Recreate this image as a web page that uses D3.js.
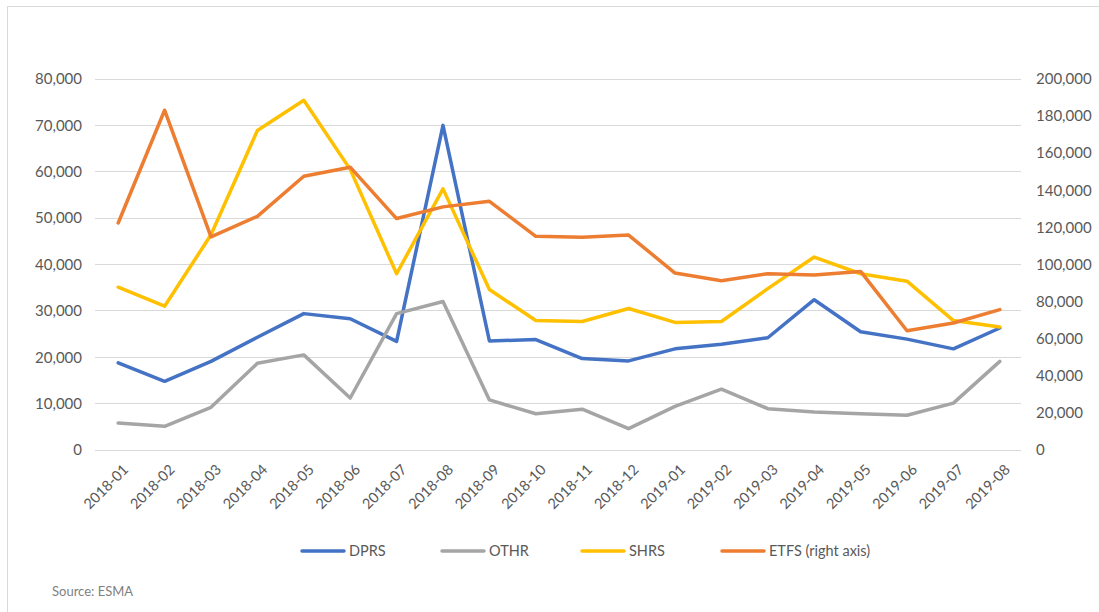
<!DOCTYPE html>
<html>
<head>
<meta charset="utf-8">
<script src="https://cdn.jsdelivr.net/npm/d3@7"></script>
<style>
  body { margin: 0; background: #fff; }
  svg text { font-family: Lato, "Open Sans", sans-serif; fill: #595959; }
</style>
</head>
<body>
<svg id="chart" width="1099" height="612"></svg>
<script>
var months = ["2018-01","2018-02","2018-03","2018-04","2018-05","2018-06","2018-07","2018-08","2018-09","2018-10",
              "2018-11","2018-12","2019-01","2019-02","2019-03","2019-04","2019-05","2019-06","2019-07","2019-08"];
var dprs = [18700,14700,19000,24200,29300,28200,23300,69900,23400,23700,19600,19100,21700,22700,24100,32300,25400,23800,21700,26200];
var othr = [5700,5000,9100,18600,20400,11100,29300,31900,10700,7700,8700,4500,9300,13000,8800,8100,7700,7400,10000,19000];
var shrs = [35000,30900,46300,68800,75300,60400,37900,56200,34500,27800,27600,30400,27400,27600,34700,41500,37900,36300,27800,26400];
var etfs = [122100,182900,114600,125700,147300,152200,124500,130800,133800,114900,114400,115600,95100,91000,94800,94100,96000,64000,68200,75400];
var leftTicks = [0,10000,20000,30000,40000,50000,60000,70000,80000];
var rightTicks = [0,20000,40000,60000,80000,100000,120000,140000,160000,180000,200000];

var series = [
  {name: "DPRS", values: dprs, color: "#4472C4", axis: "left"},
  {name: "OTHR", values: othr, color: "#A5A5A5", axis: "left"},
  {name: "SHRS", values: shrs, color: "#FFC000", axis: "left"},
  {name: "ETFS (right axis)", values: etfs, color: "#ED7D31", axis: "right"}
];

var svg = d3.select("#chart");

// chart frame
svg.append("rect")
    .attr("x", 7.5).attr("y", 6.5)
    .attr("width", 1100).attr("height", 620)
    .attr("fill", "none").attr("stroke", "#d9d9d9");

var x = d3.scalePoint().domain(months).range([95, 1023]).padding(0.5);
var yL = d3.scaleLinear().domain([0, 80000]).range([449.5, 78.5]);
var yR = d3.scaleLinear().domain([0, 200000]).range([449.5, 78.5]);

// gridlines
svg.append("g").selectAll("line")
    .data(leftTicks)
    .join("line")
    .attr("x1", 95).attr("x2", 1021)
    .attr("y1", function (d) { return Math.round(yL(d)) + 0.5; })
    .attr("y2", function (d) { return Math.round(yL(d)) + 0.5; })
    .attr("stroke", "#d9d9d9").attr("stroke-width", 1);

var fmt = d3.format(",");

var axL = svg.append("g")
    .attr("transform", "translate(82,0)")
    .call(d3.axisLeft(yL).tickValues(leftTicks).tickFormat(fmt).tickSize(0).tickPadding(0));
axL.select(".domain").remove();
axL.selectAll("text").style("font-size", "15px").attr("dy", "0.35em");

var axR = svg.append("g")
    .attr("transform", "translate(1036,0)")
    .call(d3.axisRight(yR).tickValues(rightTicks).tickFormat(fmt).tickSize(0).tickPadding(0));
axR.select(".domain").remove();
axR.selectAll("text").style("font-size", "15px").attr("dy", "0.35em");

var axB = svg.append("g")
    .attr("transform", "translate(0,458)")
    .call(d3.axisBottom(x).tickSize(0).tickPadding(0));
axB.select(".domain").remove();
axB.selectAll("text")
    .style("font-size", "14.5px")
    .style("text-anchor", "end")
    .attr("dy", "0.35em")
    .attr("transform", "translate(7,9) rotate(-45)");

// lines
svg.append("g").selectAll("path")
    .data(series)
    .join("path")
    .attr("fill", "none")
    .attr("stroke", function (d) { return d.color; })
    .attr("stroke-width", 3.5)
    .attr("stroke-linejoin", "round")
    .attr("stroke-linecap", "round")
    .attr("d", function (s) {
        var ys = s.axis === "right" ? yR : yL;
        return d3.line()
            .x(function (v, i) { return x(months[i]); })
            .y(function (v) { return ys(v); })(s.values);
    });

// legend
var legendX = [302, 442, 582, 722];
var leg = svg.append("g").selectAll("g")
    .data(series)
    .join("g")
    .attr("transform", function (d, i) { return "translate(" + legendX[i] + ",551)"; });
leg.append("line")
    .attr("x1", 0).attr("x2", 42)
    .attr("stroke", function (d) { return d.color; })
    .attr("stroke-width", 3.5).attr("stroke-linecap", "round");
leg.append("text")
    .attr("x", 47).attr("dy", "0.35em")
    .style("font-size", "14.5px")
    .text(function (d) { return d.name; });

svg.append("text")
    .attr("x", 52).attr("y", 596)
    .style("font-size", "13px")
    .style("fill", "#7f7f7f")
    .text("Source: ESMA");
</script>
</body>
</html>
